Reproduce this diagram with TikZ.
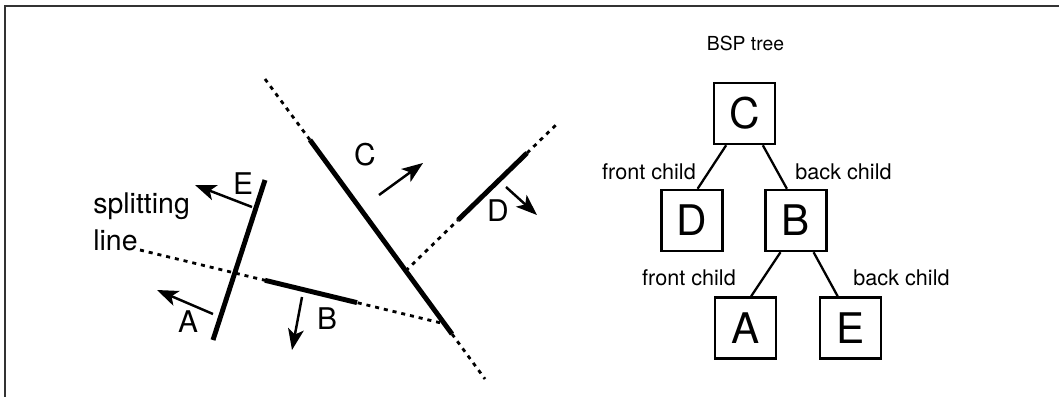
\documentclass[tikz,border=0pt]{standalone}
\usepackage{fontspec}
\setmainfont{TeX Gyre Heros}
\usetikzlibrary{arrows.meta, positioning, calc}

\tikzset{
  wall/.style={line width=2.8pt},
  split/.style={line width=1.6pt, dash pattern=on 2.3pt off 2.8pt},
  facing/.style={line width=1.4pt, -{Stealth[length=12pt,width=9pt,inset=3pt]}},
  seg/.style={font=\fontsize{17}{20}\selectfont, inner sep=0pt},
  treebox/.style={draw, line width=1.5pt, minimum size=34.6pt, inner sep=0pt,
    font=\fontsize{24}{28}\selectfont},
  branch/.style={line width=1.3pt},
  side/.style={font=\fontsize{12.3}{14}\selectfont, inner sep=0pt}
}

\begin{document}
\begin{tikzpicture}[x=0.02cm, y=-0.02cm]
\useasboundingbox (0,0) rectangle (1059,397);
% Frame
\draw[line width=1.2pt, black!80] (1059,6) -- (5,6) -- (5,397);

% Wall C with its extension
\coordinate (c0) at (265,79);
\coordinate (c1) at (310,140);
\coordinate (c2) at (452,334);
\coordinate (c3) at (485,379);
\draw[split] (c0) -- (c1);
\draw[wall] (c1) -- (c2);
\draw[split] (c2) -- (c3);

% Splitting line through B
\coordinate (s0) at (140,250);
\coordinate (s1) at (intersection of 140,250--357,302.6 and c0--c3);
\draw[split] (s0) -- (s1);
\draw[wall] (265,280.3) -- (357,302.6);

% Wall cut into E and A
\draw[wall] (265,180) -- (213,340);

% Wall D with its extension
\coordinate (d0) at (intersection of 458,220--527,153 and c0--c3);
\coordinate (d1) at (458,220);
\coordinate (d2) at (527,153);
\coordinate (d3) at (558,123);
\draw[split] (d0) -- (d1);
\draw[wall] (d1) -- (d2);
\draw[split] (d2) -- (d3);

% Facing directions
\draw[facing] (379,195) -- (423,163);
\draw[facing] (252,207) -- (195,185);
\draw[facing] (213,314) -- (157,290);
\draw[facing] (302,297) -- (292,350);
\draw[facing] (506,187) -- (537,215);

% Labels
\node[seg] (lC) at (365,155) {C};
\node[seg] (lE) at (243,184) {E};
\node[seg] (lA) at (188,322) {A};
\node[seg] (lB) at (327,319) {B};
\node[seg] (lD) at (498,211) {D};
\node[font=\fontsize{16.2}{21}\selectfont, inner sep=0pt, align=left, anchor=north west]
  (splitlbl) at (93,192) {splitting\\line};

% BSP tree
\node[font=\fontsize{11}{13}\selectfont, inner sep=0pt] (title) at (745.5,43) {BSP tree};
\node[treebox] (C) at (744.5,113.5) {C};
\node[treebox] (D) at (692,220.5) {D};
\node[treebox] (B) at (796,220.5) {B};
\node[treebox] (A) at (745.5,328) {A};
\node[treebox] (E) at (850.5,328) {E};
\draw[branch] (C.240) -- (D.80);
\draw[branch] (C.300) -- (B.106);
\draw[branch] (B.244) -- (A.80);
\draw[branch] (B.299) -- (E.112);
\node[side] (f1) at (649,172) {front child};
\node[side] (b1) at (843.5,172) {back child};
\node[side] (f2) at (689,278) {front child};
\node[side] (b2) at (901.5,278) {back child};
\end{tikzpicture}
\end{document}
